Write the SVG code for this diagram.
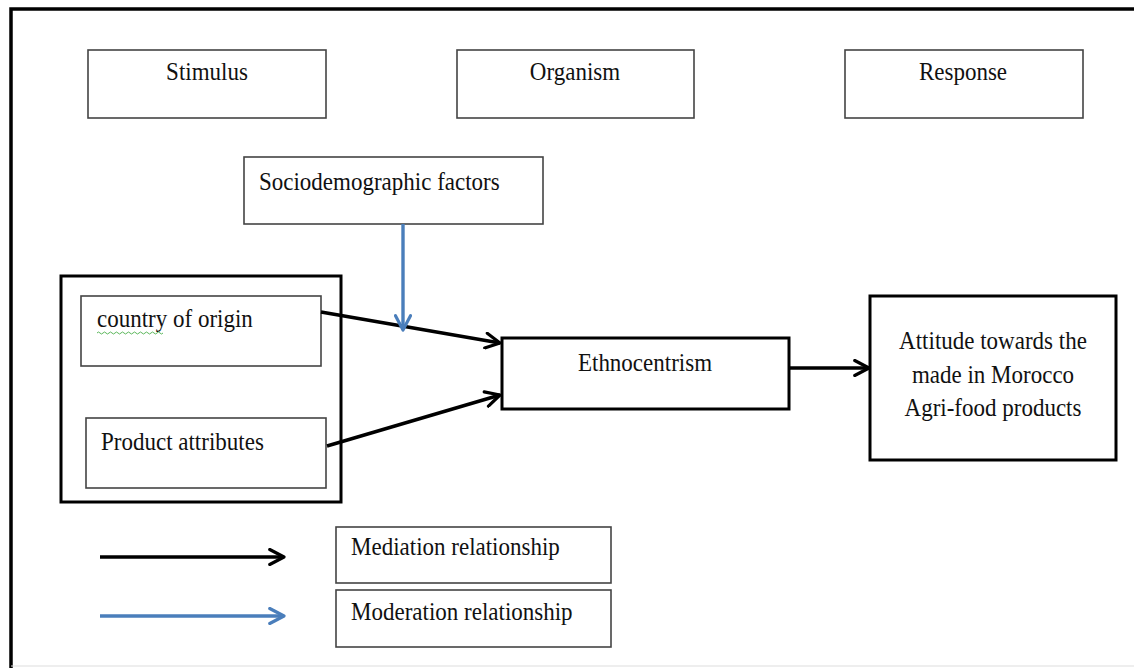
<svg xmlns="http://www.w3.org/2000/svg" width="1134" height="668" viewBox="0 0 1134 668">
<style>
.t{font-family:"Liberation Serif","Times New Roman",serif;font-size:25px;fill:#111;}
.thin{fill:#fff;stroke:#444;stroke-width:1.6;}
.thick{fill:#fff;stroke:#000;stroke-width:3;}
.ab{stroke:#000;stroke-width:3.4;fill:none;marker-end:url(#hb);}
.au{stroke:#4a7ebb;stroke-width:3.4;fill:none;marker-end:url(#hu);}
</style>
<defs>
<marker id="hb" viewBox="0 0 12 12" refX="11" refY="6" markerWidth="18" markerHeight="18" markerUnits="userSpaceOnUse" orient="auto">
<path d="M1.5,1 L11,6 L1.5,11" fill="none" stroke="#000" stroke-width="2.1" stroke-linecap="round" stroke-linejoin="round"/>
</marker>
<marker id="hu" viewBox="0 0 12 12" refX="11" refY="6" markerWidth="18" markerHeight="18" markerUnits="userSpaceOnUse" orient="auto">
<path d="M1.5,1 L11,6 L1.5,11" fill="none" stroke="#4a7ebb" stroke-width="2.1" stroke-linecap="round" stroke-linejoin="round"/>
</marker>
</defs>
<rect width="1134" height="668" fill="#fff"/>
<g id="frame">
<path d="M11,668 L11,9 L1134,9" fill="none" stroke="#000" stroke-width="3.5"/>
<line x1="11" y1="666" x2="1134" y2="666" stroke="#ddd" stroke-width="1"/>
</g>
<g id="stimulus"><rect class="thin" x="88" y="50" width="238" height="68"/><text class="t" x="207" y="80" text-anchor="middle" transform="matrix(0.92 0 0 1 16.56 0)">Stimulus</text></g>
<g id="organism"><rect class="thin" x="457" y="50" width="237" height="68"/><text class="t" x="575" y="80" text-anchor="middle" transform="matrix(0.92 0 0 1 46 0)">Organism</text></g>
<g id="response"><rect class="thin" x="845" y="50" width="238" height="68"/><text class="t" x="963" y="80" text-anchor="middle" transform="matrix(0.92 0 0 1 77.04 0)">Response</text></g>
<g id="socio"><rect class="thin" x="244" y="157" width="299" height="67"/><text class="t" x="259" y="190" transform="matrix(0.92 0 0 1 20.72 0)">Sociodemographic factors</text></g>
<g id="group"><rect class="thick" x="61" y="276" width="280" height="226"/></g>
<g id="coo"><rect class="thin" x="81" y="296" width="240" height="70"/><text class="t" x="97" y="327" transform="matrix(0.92 0 0 1 7.76 0)">country of origin</text>
<path d="M97,333 q1.5,-2 3,0 t3,0 t3,0 t3,0 t3,0 t3,0 t3,0 t3,0 t3,0 t3,0 t3,0 t3,0 t3,0 t3,0 t3,0 t3,0 t3,0 t3,0 t3,0 t3,0 t3,0 t3,0" fill="none" stroke="#5cb85c" stroke-width="1"/></g>
<g id="product"><rect class="thin" x="86" y="418" width="240" height="70"/><text class="t" x="101" y="450" transform="matrix(0.92 0 0 1 8.08 0)">Product attributes</text></g>
<g id="ethno"><rect class="thick" x="502" y="338" width="287" height="71"/><text class="t" x="645" y="371" text-anchor="middle" transform="matrix(0.92 0 0 1 51.6 0)">Ethnocentrism</text></g>
<g id="attitude"><rect class="thick" x="870" y="296" width="246" height="164"/>
<text class="t" x="993" y="349" text-anchor="middle" transform="matrix(0.92 0 0 1 79.44 0)">Attitude towards the</text>
<text class="t" x="993" y="383" text-anchor="middle" transform="matrix(0.92 0 0 1 79.44 0)">made in Morocco</text>
<text class="t" x="993" y="416" text-anchor="middle" transform="matrix(0.92 0 0 1 79.44 0)">Agri-food products</text></g>
<g id="connectors">
<line class="ab" x1="321" y1="312" x2="500" y2="343"/>
<line class="ab" x1="327" y1="446" x2="500" y2="395"/>
<line class="ab" x1="790" y1="368" x2="869" y2="368"/>
<line class="au" x1="403" y1="224" x2="403" y2="330"/>
</g>
<g id="legend">
<line class="ab" x1="100" y1="557" x2="284" y2="557"/>
<line class="au" x1="100" y1="616" x2="284" y2="616"/>
<rect class="thin" x="336" y="527" width="275" height="56"/><text class="t" x="351" y="555" transform="matrix(0.92 0 0 1 28.08 0)">Mediation relationship</text>
<rect class="thin" x="336" y="590" width="275" height="57"/><text class="t" x="351" y="620" transform="matrix(0.92 0 0 1 28.08 0)">Moderation relationship</text>
</g>
</svg>
